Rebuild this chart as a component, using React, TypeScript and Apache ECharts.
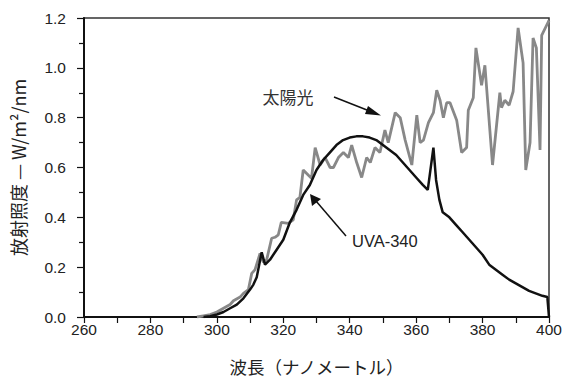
import React, { useEffect, useRef } from "react";
import * as echarts from "echarts";

const xTicks = [260, 280, 300, 320, 340, 360, 380, 400];
const yTicks = [0.0, 0.2, 0.4, 0.6, 0.8, 1.0, 1.2];

const sunWavelength = [294, 296, 298, 300, 302, 304, 305, 307, 308, 309.5, 310.5, 311.5, 313, 314, 315, 316.5, 317.5, 318.5, 319.4, 321.5, 323, 324, 325, 326, 327.5, 328.5, 329.6, 331.1, 332.6, 334.1, 335.1, 336.6, 338.1, 339.6, 340.6, 342.1, 343.6, 345.1, 346.2, 347.6, 349.1, 350.6, 351.6, 353.7, 355.2, 356.7, 358.7, 360.2, 361.2, 362.2, 363.7, 365.2, 366.2, 367.2, 368.2, 369.2, 370.2, 372.2, 373.7, 375.2, 375.7, 377.2, 378, 379.7, 380.7, 383, 385.2, 385.7, 386.7, 388, 389.2, 390.7, 392.2, 393, 394.3, 395.2, 396.2, 397.3, 397.8, 399.8, 400];
const sunIrradiance = [0, 0.005, 0.01, 0.02, 0.035, 0.05, 0.065, 0.08, 0.095, 0.11, 0.175, 0.19, 0.255, 0.22, 0.23, 0.316, 0.32, 0.33, 0.38, 0.376, 0.39, 0.47, 0.48, 0.59, 0.57, 0.557, 0.68, 0.61, 0.64, 0.6, 0.6, 0.64, 0.66, 0.64, 0.69, 0.62, 0.56, 0.64, 0.62, 0.68, 0.66, 0.75, 0.7, 0.82, 0.8, 0.71, 0.61, 0.81, 0.7, 0.71, 0.78, 0.82, 0.91, 0.87, 0.8, 0.86, 0.86, 0.79, 0.66, 0.68, 0.83, 0.88, 1.08, 0.93, 1.01, 0.61, 0.9, 0.84, 0.87, 0.85, 0.905, 1.16, 1.02, 0.59, 0.7, 1.12, 1.08, 0.67, 1.13, 1.185, 1.19];

const uvaWavelength = [296, 298, 300, 302, 304, 306, 308, 310, 311, 312, 313.5, 314.5, 316, 318, 320, 322, 324, 326, 328, 330, 332, 334, 336, 338, 340, 342, 344, 346, 348, 350, 352, 354, 356, 358, 360, 362, 363.5, 365.2, 366, 367, 368, 370, 372, 374, 376, 378, 380, 382, 384, 386, 388, 390, 392, 394, 396, 398, 399.5, 400];
const uvaIrradiance = [0, 0.003, 0.01, 0.02, 0.035, 0.05, 0.075, 0.11, 0.13, 0.16, 0.26, 0.21, 0.23, 0.27, 0.31, 0.38, 0.43, 0.49, 0.53, 0.59, 0.63, 0.66, 0.69, 0.71, 0.72, 0.725, 0.725, 0.72, 0.71, 0.69, 0.67, 0.65, 0.62, 0.59, 0.56, 0.53, 0.51, 0.68, 0.55, 0.47, 0.42, 0.4, 0.37, 0.34, 0.31, 0.28, 0.25, 0.21, 0.19, 0.17, 0.15, 0.135, 0.12, 0.105, 0.095, 0.085, 0.08, 0];

const FONT = "'Liberation Sans', Arial, sans-serif";
const CJK = "'Noto Sans CJK JP', sans-serif";

export default function App() {
  const ref = useRef<HTMLDivElement>(null);
  useEffect(() => {
    if (!ref.current) return;
    const chart = echarts.init(ref.current, null, { renderer: "svg" });
    const sun = sunWavelength.map((x, i) => [x, sunIrradiance[i]]);
    const uva = uvaWavelength.map((x, i) => [x, uvaIrradiance[i]]);
    chart.setOption({
      animation: false,
      backgroundColor: "#fff",
      grid: {
        left: 84, right: 15, top: 18, bottom: 61,
        containLabel: false, outerBoundsMode: "none",
        show: true, borderColor: "#333", borderWidth: 1.5, backgroundColor: "transparent",
      },
      xAxis: {
        type: "value",
        min: xTicks[0],
        max: xTicks[xTicks.length - 1],
        interval: 20,
        name: "波長（ナノメートル）",
        nameLocation: "middle",
        nameGap: 41,
        nameTextStyle: { fontFamily: CJK, fontSize: 17.5, color: "#222" },
        axisLine: { lineStyle: { color: "#111", width: 2 } },
        axisTick: { inside: false, length: 6, lineStyle: { color: "#111", width: 1.2 } },
        minorTick: { show: true, splitNumber: 2, length: 6, lineStyle: { color: "#111", width: 1.2 } },
        splitLine: { show: false },
        axisLabel: { fontFamily: FONT, fontSize: 15.5, color: "#222", margin: 4 },
      },
      yAxis: {
        type: "value",
        min: yTicks[0],
        max: yTicks[yTicks.length - 1],
        interval: 0.2,
        name: "放射照度 — W/m²/nm",
        nameLocation: "middle",
        nameGap: 57,
        nameTextStyle: { fontFamily: CJK, fontSize: 18, color: "#222" },
        axisLine: { show: true, lineStyle: { color: "#111", width: 2 } },
        axisTick: { show: true, inside: false, length: 7, lineStyle: { color: "#111", width: 1.2 } },
        minorTick: { show: true, splitNumber: 2, length: 5, lineStyle: { color: "#111", width: 1.2 } },
        splitLine: { show: false },
        axisLabel: { fontFamily: FONT, fontSize: 15.5, color: "#222", margin: 18, formatter: (v: number) => v.toFixed(1) },
      },
      series: [
        {
          type: "line",
          data: sun,
          showSymbol: false,
          lineStyle: { color: "#888", width: 2.8 },
          z: 2,
        },
        {
          type: "line",
          data: uva,
          showSymbol: false,
          lineStyle: { color: "#111", width: 2.5 },
          z: 3,
        },
      ],
      graphic: [
        { type: "text", x: 288, y: 96, style: { text: "太陽光", font: `17px ${CJK}`, fill: "#333", align: "center", verticalAlign: "middle" } },
        { type: "text", x: 352, y: 241, style: { text: "UVA-340", font: `16.5px ${FONT}`, fill: "#222", align: "left", verticalAlign: "middle" } },
        { type: "line", shape: { x1: 334, y1: 97, x2: 372, y2: 112 }, style: { stroke: "#111", lineWidth: 1.5 } },
        { type: "polygon", shape: { points: [[381, 115.5], [368, 106], [365, 114]] }, style: { fill: "#111" } },
        { type: "line", shape: { x1: 346, y1: 236, x2: 316, y2: 201 }, style: { stroke: "#111", lineWidth: 1.5 } },
        { type: "polygon", shape: { points: [[310, 194], [312, 206], [321, 199]] }, style: { fill: "#111" } },
      ],
    });
    return () => chart.dispose();
  }, []);
  return <div ref={ref} style={{ position: "fixed", left: 0, top: 0, width: 564, height: 378 }} />;
}
